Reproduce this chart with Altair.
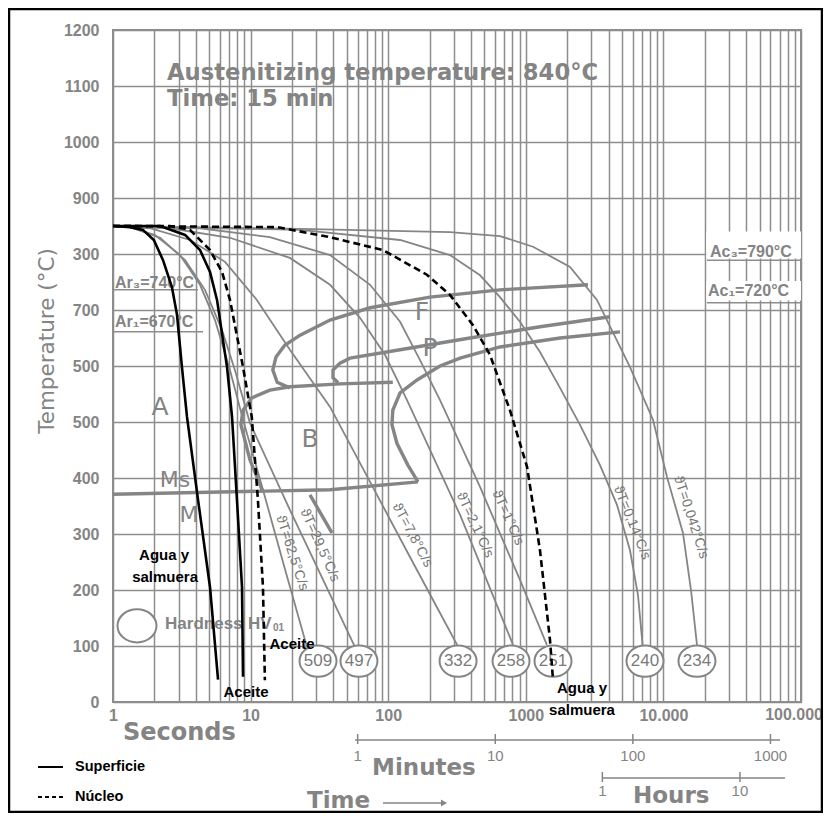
import altair as alt
import pandas as pd

GRID = "#8d8d8d"
LINE = "#858585"
TXT = "#848484"
SANS = "Liberation Sans"
WIDE = "DejaVu Sans"

# ---------------- axis ticks ----------------
x_ticks = [m * 10 ** e for e in range(5) for m in range(1, 10)] + [100000]
x_label_values = [1, 10, 100, 1000, 10000]
x_label_texts = ["1", "10", "100", "1000", "10.000"]
x_last_value = [100000]
x_last_text = ["100.000"]
y_ticks = [0, 100, 200, 300, 400, 500, 600, 700, 800, 900, 1000, 1100, 1200]
y_tick_texts = ["0", "100", "200", "300", "400", "500", "500", "700", "300", "900", "1000", "1100", "1200"]

# ---------------- cooling curves (time s, temperature °C) ----------------
c625_t = [1, 1.33, 2.02, 3.07, 4.29, 5.51, 7.08, 8.81, 12.3, 17.7, 25.7]
c625_T = [850, 848, 834, 798, 745, 682, 593, 504, 379, 239, 98]
c295_t = [1, 1.33, 2.2, 3.34, 4.66, 6.2, 7.69, 9.9, 19.3, 57.4]
c295_T = [850, 848, 829, 789, 736, 664, 593, 498, 343, 98]
c78_t = [1, 1.86, 3.63, 6.52, 11.1, 19.3, 37.8, 73.8, 144, 238, 317]
c78_T = [850, 846, 825, 786, 718, 629, 527, 393, 259, 159, 102]
c21_t = [1, 2.6, 7.08, 19.3, 37.8, 62.4, 94.8, 137, 333, 808]
c21_T = [850, 846, 829, 793, 745, 686, 620, 539, 334, 102]
c10_t = [1, 4.29, 13.8, 37.8, 73.8, 122, 170, 238, 465, 907, 1423]
c10_T = [850, 846, 830, 798, 745, 679, 611, 539, 384, 218, 102]
c014_t = [1, 22.9, 122, 281, 465, 649, 907, 1268, 1773, 2477, 3461, 4600, 5718, 6535, 7060]
c014_T = [850, 843, 825, 798, 762, 723, 679, 625, 561, 495, 423, 352, 271, 191, 102]
c0042_t = [1, 22.9, 281, 649, 1128, 2095, 3290, 5718, 8400, 10620, 13870, 15870, 17540]
c0042_T = [850, 845, 839, 832, 813, 777, 718, 598, 504, 402, 302, 200, 102]

# ---------------- transformation boundaries ----------------
ferrite_t = [2830, 649, 201, 73.8, 37.8, 22.9, 17.7, 15.3, 14.5, 15.6, 19.3]
ferrite_T = [745, 736, 723, 704, 682, 655, 637, 616, 593, 571, 561]
bainite_t = [12.3, 9.9, 8.51, 8.81, 10.2, 13.8, 19.3, 44.6, 108]
bainite_T = [375, 432, 495, 521, 543, 557, 563, 568, 571]
pstart_t = [4092, 1268, 393, 122, 52.8, 44.6, 39.7, 39.7, 43.2]
pstart_T = [688, 670, 650, 629, 614, 605, 593, 579, 570]
pfinish_t = [4838, 1773, 649, 333, 238, 162, 122, 108, 106.5, 115.7, 139, 164.7]
pfinish_T = [661, 650, 634, 614, 600, 575, 552, 521, 495, 462, 423, 393]
ms_t = [1, 37.8, 164.7]
ms_T = [371, 379, 393]
bseg_t = [27, 39]
bseg_T = [370, 302]

# ---------------- overlay curves (black) ----------------
water_surf_t = [1, 1.33, 1.65, 1.98, 2.31, 2.68, 2.92, 3.17, 3.45, 4.15, 5.07, 5.8]
water_surf_T = [850, 848, 843, 825, 789, 741, 691, 598, 509, 361, 205, 40]
oil_surf_t = [1, 2.2, 3.34, 4.29, 5.07, 5.7, 6.74, 7.33, 7.96, 8.66, 8.81]
oil_surf_T = [850, 850, 834, 807, 768, 718, 598, 509, 361, 205, 45]
oil_core_t = [1, 2.6, 3.63, 5.07, 6.2, 7.08, 8.81, 10.2, 11.3, 12.3, 12.7]
oil_core_T = [850, 850, 843, 807, 768, 718, 598, 509, 361, 205, 39]
water_core_t = [1, 15.6, 37.8, 91.6, 191, 281, 413, 549, 767, 1021, 1268, 1499, 1577]
water_core_T = [850, 848, 830, 807, 763, 727, 673, 620, 521, 420, 271, 111, 39]

# ---------------- labels ----------------
rate_texts = ["ϑT=62,5°C/s", "ϑT=29,5°C/s", "ϑT=7,8°C/s", "ϑT=2,1°C/s", "ϑT=1°C/s", "ϑT=0,14°C/s", "ϑT=0,042°C/s"]
rate_t = [20.0, 31.9, 150, 427, 742, 5915, 15870]
rate_T = [266, 280, 298, 316, 329, 320, 330]
rate_angles = [72, 66, 62, 65, 66, 68, 72]

big_texts = ["A", "B", "F", "P"]
big_t = [2.2, 27, 176, 201]
big_T = [527, 470, 696, 632]
small_texts = ["Ms", "M"]
small_t = [2.82, 3.57]
small_T = [396, 334]

hv_texts = ["509", "497", "332", "258", "251", "240", "234"]
hv_t = [30.9, 61.3, 322, 781, 1577, 7350, 17540]
hv_T = [73, 73, 73, 73, 73, 73, 73]
hv_key_t = [1.494]
hv_key_T = [136]
hv_key_texts = ["Hardness", "HV"]
hv_key_text_t = [2.39, 9.58]
hv_key_text_T = [140, 140]
hv_sub_text = ["01"]
hv_sub_t = [14.55]
hv_sub_T = [133]

ann_texts = ["Agua y", "salmuera", "Aceite", "Aceite", "Agua y", "salmuera"]
ann_t = [2.35, 2.39, 20.0, 9.26, 2560, 2560]
ann_T = [262, 223, 104, 18, 25, -14]

ar_texts = ["Ar₃=740°C", "Ar₁=670°C"]
ar_t = [1.034, 1.034]
ar_T = [748, 679]
ar_line_t2 = [4.15, 4.51]
ar_line_T = [736, 661]
ac_texts = ["Ac₃=790°C", "Ac₁=720°C"]
ac_t = [21800, 21100]
ac_T = [804, 734]
ac_line_t1 = [20730, 20730]
ac_line_T = [789, 713]
ac_bg_T1 = [792, 717]
ac_bg_T2 = [840, 752]

minute_line_t = [57.4, 70400]
minute_ticks_t = [60, 600, 6000, 60000]
minute_texts = ["1", "10", "100", "1000"]
hour_line_t = [3600, 76500]
hour_ticks_t = [3600, 36000]
hour_texts = ["1", "10"]

# ---------------- scales / axes ----------------
XS = alt.Scale(type="log", domain=[1, 100000])
YS = alt.Scale(domain=[0, 1200])


def ternary(values, texts):
    return " : ".join(f"datum.value == {v} ? '{t}'" for v, t in zip(values, texts)) + " : ''"


XA = alt.Axis(values=x_ticks, labelExpr=ternary(x_label_values, x_label_texts), grid=True,
              gridColor=GRID, gridWidth=1.5, gridOpacity=1, ticks=False, domain=False,
              labelFont=SANS, labelFontSize=16, labelFontWeight="bold", labelColor=TXT,
              labelPadding=5, labelOverlap=False, labelFlush=False, title=None)
YA = alt.Axis(values=y_ticks, labelExpr=ternary(y_ticks, y_tick_texts), grid=True,
              gridColor=GRID, gridWidth=1.5, gridOpacity=1, ticks=False, domain=False,
              labelFont=SANS, labelFontSize=16, labelFontWeight="bold", labelColor=TXT,
              labelPadding=14, labelOverlap=False, title=None)


def xq(f="t"):
    return alt.X(f"{f}:Q", scale=XS, axis=XA)


def yq(f="T"):
    return alt.Y(f"{f}:Q", scale=YS, axis=YA)


def curves_df(curves):
    rows = []
    for name, ts, Ts in curves:
        for i, (t, T) in enumerate(zip(ts, Ts)):
            rows.append({"curve": name, "t": t, "T": T, "i": i})
    return pd.DataFrame(rows)


def line_layer(curves, **mark):
    return alt.Chart(curves_df(curves)).mark_line(**mark).encode(
        x=xq(), y=yq(), detail="curve:N", order=alt.Order("i:Q"))


def text_layer(texts, ts, Ts, **mark):
    df = pd.DataFrame({"label": texts, "t": ts, "T": Ts})
    return alt.Chart(df).mark_text(**mark).encode(x=xq(), y=yq(), text="label:N")


ONE = alt.Data(values=[{}])


def ptext(txt, x, y, size, font=WIDE, weight="bold", color=TXT, align="left",
          baseline="alphabetic", angle=0):
    kw = dict(text=txt, font=font, fontSize=size, fontWeight=weight, color=color,
              align=align, baseline=baseline)
    if angle:
        kw["angle"] = angle
    return alt.Chart(ONE).mark_text(**kw).encode(x=alt.value(x), y=alt.value(y))


ELL = "M-1,0A1,0.85,0,1,0,1,0A1,0.85,0,1,0,-1,0Z"

layers = []

# white boxes behind the Ac labels
layers.append(alt.Chart(pd.DataFrame({"t1": [20500, 20500], "t2": [100000, 100000],
                                       "T1": ac_bg_T1, "T2": ac_bg_T2}))
              .mark_rect(color="white")
              .encode(x=xq("t1"), x2="t2:Q", y=yq("T1"), y2="T2:Q"))

# gray cooling curves
layers.append(line_layer([
    ("62.5", c625_t, c625_T), ("29.5", c295_t, c295_T), ("7.8", c78_t, c78_T),
    ("2.1", c21_t, c21_T), ("1", c10_t, c10_T), ("0.14", c014_t, c014_T),
    ("0.042", c0042_t, c0042_T)], color=LINE, strokeWidth=1.8))

# thick transformation lines
layers.append(line_layer([
    ("F", ferrite_t, ferrite_T), ("B", bainite_t, bainite_T), ("Ps", pstart_t, pstart_T),
    ("Pf", pfinish_t, pfinish_T), ("Ms", ms_t, ms_T), ("Bs", bseg_t, bseg_T)],
    color=LINE, strokeWidth=3.4))

# Ar / Ac underlines
layers.append(alt.Chart(pd.DataFrame({"t1": [1, 1], "t2": ar_line_t2, "T": ar_line_T}))
              .mark_rule(color=GRID, strokeWidth=1.5)
              .encode(x=xq("t1"), x2="t2:Q", y=yq()))
layers.append(alt.Chart(pd.DataFrame({"t1": ac_line_t1, "t2": [100000, 100000], "T": ac_line_T}))
              .mark_rule(color=GRID, strokeWidth=1.5)
              .encode(x=xq("t1"), x2="t2:Q", y=yq()))
layers.append(text_layer(ar_texts, ar_t, ar_T, font=SANS, fontWeight="bold", fontSize=16,
                         color=TXT, align="left"))
layers.append(text_layer(ac_texts, ac_t, ac_T, font=SANS, fontWeight="bold", fontSize=16,
                         color=TXT, align="left"))

# hardness ellipses
layers.append(alt.Chart(pd.DataFrame({"t": hv_t, "T": hv_T}))
              .mark_point(shape=ELL, size=1369, fill="white", stroke=LINE, strokeWidth=2,
                          fillOpacity=1, opacity=1)
              .encode(x=xq(), y=yq()))
layers.append(text_layer(hv_texts, hv_t, hv_T, font=SANS, fontSize=17, color="#7a7a7a"))
layers.append(alt.Chart(pd.DataFrame({"t": hv_key_t, "T": hv_key_T}))
              .mark_point(shape=ELL, size=1521, fill="white", stroke=LINE, strokeWidth=2,
                          fillOpacity=1, opacity=1)
              .encode(x=xq(), y=yq()))
layers.append(text_layer(hv_key_texts, hv_key_text_t, hv_key_text_T, font=SANS,
                         fontWeight="bold", fontSize=17, color=TXT, align="left"))
layers.append(text_layer(hv_sub_text, hv_sub_t, hv_sub_T, font=SANS, fontWeight="bold",
                         fontSize=10, color=TXT, align="left"))

# region labels
layers.append(text_layer(big_texts, big_t, big_T, font=WIDE, fontSize=25, color=TXT))
layers.append(text_layer(small_texts, small_t, small_T, font=WIDE, fontSize=22, color=TXT))

# rate labels along the curves
for txt, t, T, ang in zip(rate_texts, rate_t, rate_T, rate_angles):
    layers.append(text_layer([txt], [t], [T], font=SANS, fontSize=14, color="#767676",
                             angle=ang))

# black overlay curves
layers.append(line_layer([("ws", water_surf_t, water_surf_T), ("os", oil_surf_t, oil_surf_T)],
                         color="black", strokeWidth=2.6))
layers.append(line_layer([("oc", oil_core_t, oil_core_T), ("wc", water_core_t, water_core_T)],
                         color="black", strokeWidth=2.6, strokeDash=[7, 4]))
layers.append(text_layer(ann_texts, ann_t, ann_T, font=SANS, fontWeight="bold", fontSize=15,
                         color="black"))

# last x label (right-aligned so it stays on the page)
layers.append(alt.Chart(pd.DataFrame({"t": x_last_value, "label": x_last_text}))
              .mark_text(font=SANS, fontSize=16, fontWeight="bold", color=TXT, align="right",
                         baseline="top", dx=22)
              .encode(x=xq(), y=alt.value(677), text="label:N"))

# minutes axis
layers.append(alt.Chart(pd.DataFrame({"t": [minute_line_t[0]], "t2": [minute_line_t[1]]}))
              .mark_rule(color=LINE, strokeWidth=1.5)
              .encode(x=xq(), x2="t2:Q", y=alt.value(710)))
layers.append(alt.Chart(pd.DataFrame({"t": minute_ticks_t}))
              .mark_rule(color=LINE, strokeWidth=1.5)
              .encode(x=xq(), y=alt.value(704), y2=alt.value(714)))
layers.append(alt.Chart(pd.DataFrame({"t": minute_ticks_t, "label": minute_texts}))
              .mark_text(font=SANS, fontSize=15, color=TXT)
              .encode(x=xq(), y=alt.value(726), text="label:N"))
# hours axis
layers.append(alt.Chart(pd.DataFrame({"t": [hour_line_t[0]], "t2": [hour_line_t[1]]}))
              .mark_rule(color=LINE, strokeWidth=1.5)
              .encode(x=xq(), x2="t2:Q", y=alt.value(748)))
layers.append(alt.Chart(pd.DataFrame({"t": hour_ticks_t}))
              .mark_rule(color=LINE, strokeWidth=1.5)
              .encode(x=xq(), y=alt.value(742), y2=alt.value(752)))
layers.append(alt.Chart(pd.DataFrame({"t": hour_ticks_t, "label": hour_texts}))
              .mark_text(font=SANS, fontSize=15, color=TXT)
              .encode(x=xq(), y=alt.value(761), text="label:N"))

# fixed texts
layers += [
    ptext("Austenitizing temperature: 840°C", 54, 50, 22.7),
    ptext("Time: 15 min", 54, 76, 22.7),
    ptext("Temperature (°C)", -65, 311, 21.5, weight="normal", align="center",
          baseline="middle", angle=270),
    ptext("Seconds", 10, 710, 24),
    ptext("Minutes", 259, 745, 23),
    ptext("Time", 194, 778, 23),
    ptext("Hours", 520, 773, 23),
    ptext("Superficie", -38, 737, 14.5, font=SANS, color="black", baseline="middle"),
    ptext("Núcleo", -38, 767, 14.5, font=SANS, color="black", baseline="middle"),
]
# time arrow
layers.append(alt.Chart(ONE).mark_rule(color=LINE, strokeWidth=1.5)
              .encode(x=alt.value(270), x2=alt.value(330), y=alt.value(773)))
layers.append(alt.Chart(ONE).mark_point(shape="triangle-right", size=50, filled=True,
                                        color=LINE, opacity=1)
              .encode(x=alt.value(331), y=alt.value(773)))
# legend lines
layers.append(alt.Chart(ONE).mark_rule(color="black", strokeWidth=2)
              .encode(x=alt.value(-75), x2=alt.value(-50), y=alt.value(737)))
layers.append(alt.Chart(ONE).mark_rule(color="black", strokeWidth=2, strokeDash=[4, 3])
              .encode(x=alt.value(-75), x2=alt.value(-50), y=alt.value(767)))
# outer frame
layers.append(alt.Chart(ONE).mark_rect(fillOpacity=0, stroke="black", strokeWidth=2.5)
              .encode(x=alt.value(-104), x2=alt.value(709), y=alt.value(-21), y2=alt.value(782)))

chart = (alt.layer(*layers)
         .properties(width=688, height=672, autosize=alt.AutoSizeParams(type="none"),
                     padding={"left": 105, "right": 22, "top": 22, "bottom": 111})
         .configure(background="white")
         .configure_view(stroke=GRID, strokeWidth=2))

chart.save("out.html", embed_options={"renderer": "svg", "actions": False})
